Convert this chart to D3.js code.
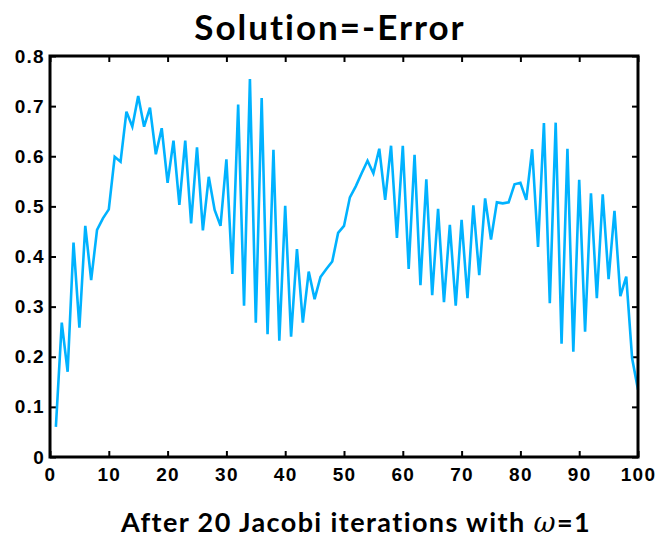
<!DOCTYPE html>
<html>
<head>
<meta charset="utf-8">
<script src="https://cdn.jsdelivr.net/npm/d3@7"></script>
<style>
  html, body { margin: 0; padding: 0; background: #fff; }
  svg { display: block; font-family: Lato, "Open Sans", sans-serif; }
</style>
</head>
<body>
<svg id="chart" width="671" height="538"></svg>
<script>
// Grid index (1..100) and the error value at each point after 20 Jacobi sweeps
const gridIndex = d3.range(1, 101);
const errorValues = [
  0.060, 0.268, 0.170, 0.428, 0.258, 0.461, 0.353, 0.453, 0.476, 0.494,
  0.599, 0.589, 0.689, 0.659, 0.720, 0.659, 0.697, 0.604, 0.656, 0.547,
  0.631, 0.503, 0.631, 0.466, 0.618, 0.452, 0.559, 0.493, 0.461, 0.594,
  0.365, 0.703, 0.302, 0.754, 0.268, 0.716, 0.245, 0.613, 0.232, 0.501,
  0.240, 0.415, 0.268, 0.370, 0.315, 0.359, 0.375, 0.390, 0.447, 0.461,
  0.518, 0.540, 0.566, 0.591, 0.566, 0.615, 0.513, 0.621, 0.437, 0.621,
  0.375, 0.603, 0.343, 0.554, 0.323, 0.495, 0.309, 0.463, 0.302, 0.473,
  0.317, 0.502, 0.363, 0.516, 0.434, 0.508, 0.506, 0.508, 0.544, 0.547,
  0.513, 0.614, 0.419, 0.666, 0.307, 0.667, 0.226, 0.615, 0.210, 0.553,
  0.250, 0.526, 0.317, 0.524, 0.355, 0.491, 0.321, 0.360, 0.197, 0.134
];
const xTicks = [0, 10, 20, 30, 40, 50, 60, 70, 80, 90, 100];
const yTicks = [0, 0.1, 0.2, 0.3, 0.4, 0.5, 0.6, 0.7, 0.8];
const yTickLabels = ["0", "0.1", "0.2", "0.3", "0.4", "0.5", "0.6", "0.7", "0.8"];

const svg = d3.select("#chart");
const plotLeft = 50, plotRight = 638, plotTop = 56, plotBottom = 457;

const x = d3.scaleLinear().domain([0, 100]).range([plotLeft, plotRight]);
const y = d3.scaleLinear().domain([0, 0.8]).range([plotBottom, plotTop]);

const tickLen = 6;
const axisStyle = g => {
  g.select(".domain").remove();
  g.selectAll(".tick line").attr("stroke", "#000").attr("stroke-width", 2);
  g.selectAll(".tick text").attr("fill", "#000")
    .style("font-size", "19px").style("font-weight", "600")
    .style("letter-spacing", "1.3px");
};

// Bottom axis with labels, ticks pointing inward
svg.append("g").attr("transform", `translate(0,${plotBottom})`)
  .call(d3.axisBottom(x).tickValues(xTicks).tickSize(-tickLen).tickPadding(11).tickFormat(d3.format("d")))
  .call(axisStyle);
// Top mirror ticks
svg.append("g").attr("transform", `translate(0,${plotTop})`)
  .call(d3.axisTop(x).tickValues(xTicks).tickSize(-tickLen).tickFormat(""))
  .call(axisStyle);
// Left axis with labels
svg.append("g").attr("transform", `translate(${plotLeft},0)`)
  .call(d3.axisLeft(y).tickValues(yTicks).tickSize(-tickLen).tickPadding(5)
    .tickFormat((d, i) => yTickLabels[i]))
  .call(axisStyle);
// Right mirror ticks
svg.append("g").attr("transform", `translate(${plotRight},0)`)
  .call(d3.axisRight(y).tickValues(yTicks).tickSize(-tickLen).tickFormat(""))
  .call(axisStyle);

// Data line
const line = d3.line().x((d, i) => x(gridIndex[i])).y(d => y(d));
svg.append("path")
  .datum(errorValues)
  .attr("fill", "none")
  .attr("stroke", "#00b2ff")
  .attr("stroke-width", 2.6)
  .attr("stroke-linejoin", "miter")
  .attr("d", line);

// Plot frame
svg.append("rect")
  .attr("x", plotLeft).attr("y", plotTop)
  .attr("width", plotRight - plotLeft).attr("height", plotBottom - plotTop)
  .attr("fill", "none").attr("stroke", "#000").attr("stroke-width", 3);

// Title
svg.append("text")
  .attr("x", 330).attr("y", 40)
  .attr("text-anchor", "middle")
  .style("font-size", "35px").style("font-weight", "700")
  .style("letter-spacing", "2px")
  .text("Solution=-Error");

// X-axis label
const xl = svg.append("text")
  .attr("x", 356).attr("y", 532)
  .attr("text-anchor", "middle")
  .style("font-size", "27px").style("font-weight", "700")
  .style("letter-spacing", "1.4px");
xl.append("tspan").text("After 20 Jacobi iterations with ");
xl.append("tspan").style("font-family", "'DejaVu Serif', serif").style("font-style", "italic").style("font-weight", "400").text("ω");
xl.append("tspan").text("=1");
</script>
</body>
</html>
